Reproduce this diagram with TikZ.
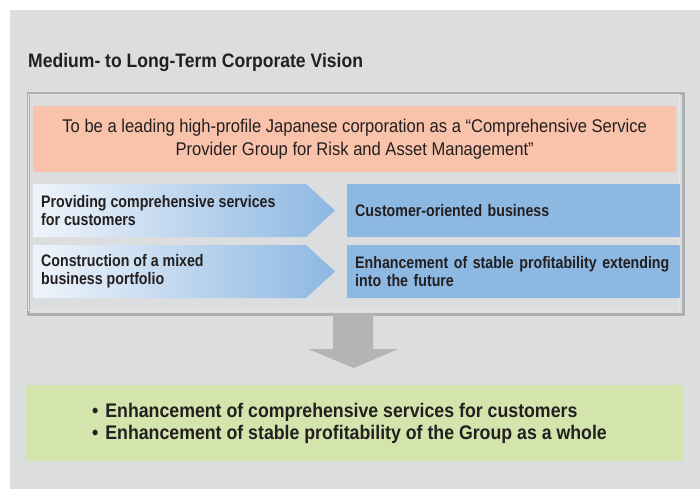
\documentclass[tikz,border=0pt]{standalone}
\usepackage{fontspec}
\setmainfont{Liberation Sans}[FakeStretch=0.9]
\newfontfamily\narrowfont{Liberation Sans}[FakeStretch=0.85]
\usetikzlibrary{calc}
\definecolor{bg}{HTML}{DCDDDF}
\definecolor{salmon}{HTML}{F9C3AB}
\definecolor{bluebox}{HTML}{8DB8E2}
\definecolor{bluelight}{HTML}{EFF4FB}
\definecolor{greenbox}{HTML}{D3E4AD}
\definecolor{framegray}{HTML}{ADAEB0}
\definecolor{frameinner}{HTML}{E4E5E6}
\definecolor{arrowgray}{HTML}{B3B4B6}
\definecolor{ink}{HTML}{231F20}
\tikzset{
  every node/.style={text=ink, inner sep=0pt},
  titlefont/.style={font=\bfseries\fontsize{19.5}{23}\selectfont},
  boxfont/.style={font=\narrowfont\bfseries\fontsize{16.7}{18}\selectfont},
  visionfont/.style={font=\fontsize{18.4}{23}\selectfont},
  resultfont/.style={font=\bfseries\fontsize{19.7}{22}\selectfont},
  chevron/.style={left color=bluelight, right color=bluebox},
  goalbox/.style={fill=bluebox, minimum height=53pt, text width=317pt, inner xsep=8pt, align=left, anchor=north west, boxfont},
  chevtext/.style={anchor=west, align=left, boxfont},
}
\begin{document}
\begin{tikzpicture}[x=1pt,y=-1pt]
\useasboundingbox (0,0) rectangle (700,489);
\fill[bg] (10,10) rectangle (700,489);
\node[anchor=base west, titlefont] (title) at (28,68) {Medium- to Long-Term Corporate Vision};
\node[draw=framegray, line width=3pt, minimum width=655pt, minimum height=220pt, anchor=north west] (frame) at (26.5,92.5) {};
\draw[frameinner, line width=0.8pt] (28.4,94.4) rectangle (679.6,310.6);
\node[fill=salmon, minimum width=643pt, minimum height=66pt, anchor=north west, align=center, visionfont] (vision) at (33,106)
  {To be a leading high-profile Japanese corporation as a “Comprehensive Service\\Provider Group for Risk and Asset Management”};
% row 1
\shade[chevron] (33,184) -- (306,184) -- (335,210.5) -- (306,237) -- (33,237) -- cycle;
\node[chevtext] (services) at (41,210.5) {Providing comprehensive services\\for customers};
\node[goalbox] (customer) at (347,184) {Customer-oriented business};
% row 2
\shade[chevron] (33,245) -- (306,245) -- (335,271.5) -- (306,298) -- (33,298) -- cycle;
\node[chevtext] (portfolio) at (41,271.5) {Construction of a mixed\\business portfolio};
\node[goalbox] (stable) at (347,245) {Enhancement of stable profitability extending\\into the future};
% result
\node[fill=greenbox, minimum width=657pt, minimum height=76pt, anchor=north west] (result) at (26,385) {};
\node[anchor=west, align=left, resultfont] (resulttext) at (92,423)
  {•\hspace{7pt}Enhancement of comprehensive services for customers\\•\hspace{7pt}Enhancement of stable profitability of the Group as a whole};
% block arrow
\fill[arrowgray] (333,313) -- (373,313) -- (373,349) -- (398,349) -- ($(result.north)+(-1,-17)$) -- (308,349) -- (333,349) -- cycle;
\end{tikzpicture}
\end{document}
